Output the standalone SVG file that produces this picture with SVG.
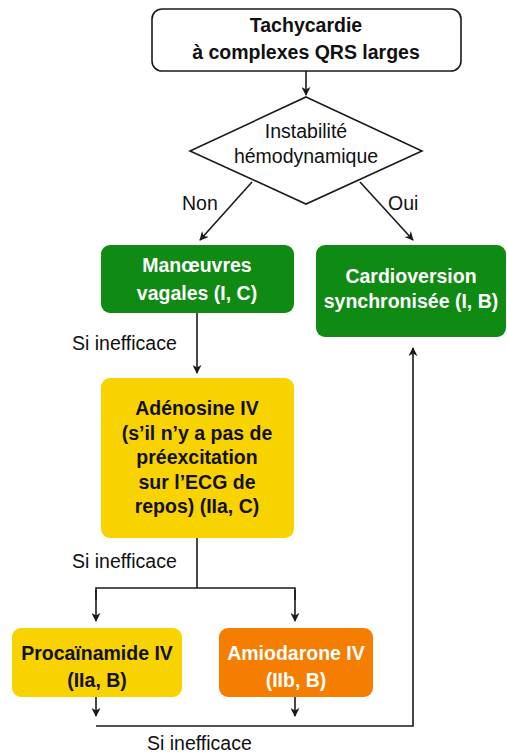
<svg xmlns="http://www.w3.org/2000/svg" width="507" height="753" viewBox="0 0 507 753">
<defs>
<style>
.t{font-family:"Liberation Sans",Arial,sans-serif;font-size:19.5px;text-anchor:middle}
.b{font-weight:bold}
.lbl{font-family:"Liberation Sans",Arial,sans-serif;font-size:19.5px}
.w{fill:#ffffff}
.k{fill:#111111}
.ln{fill:none;stroke:#1a1a1a;stroke-width:1.6}
</style>
<marker id="ah" viewBox="0 0 10 10" refX="9" refY="5" markerWidth="9" markerHeight="9" orient="auto" markerUnits="userSpaceOnUse">
<path d="M0,0 L10,5 L0,10 L3,5 z" fill="#1a1a1a"/>
</marker>
</defs>
<rect width="507" height="753" fill="#ffffff"/>

<g id="connectors">
<line class="ln" x1="306" y1="71" x2="306" y2="95" marker-end="url(#ah)"/>
<line class="ln" x1="252" y1="182" x2="200" y2="240" marker-end="url(#ah)"/>
<line class="ln" x1="360" y1="182" x2="413" y2="240" marker-end="url(#ah)"/>
<line class="ln" x1="197" y1="313" x2="197" y2="373" marker-end="url(#ah)"/>
<polyline class="ln" points="197,538 197,588"/>
<polyline class="ln" points="96,600 96,588 295,588 295,600"/>
<line class="ln" x1="96" y1="590" x2="96" y2="621" marker-end="url(#ah)"/>
<line class="ln" x1="295" y1="590" x2="295" y2="621" marker-end="url(#ah)"/>
<line class="ln" x1="96" y1="697" x2="96" y2="716" marker-end="url(#ah)"/>
<line class="ln" x1="295" y1="697" x2="295" y2="716" marker-end="url(#ah)"/>
<polyline class="ln" points="96,726 413,726 413,348" marker-end="url(#ah)"/>
<text class="lbl k" x="182" y="210">Non</text>
<text class="lbl k" x="388" y="210">Oui</text>
<text class="lbl k" x="72" y="350">Si inefficace</text>
<text class="lbl k" x="72" y="568">Si inefficace</text>
<text class="lbl k" x="147" y="750">Si inefficace</text>
</g>

<g id="start">
<rect x="152" y="9" width="309" height="62" rx="10" fill="#ffffff" stroke="#1a1a1a" stroke-width="1.6"/>
<text class="t b k" x="306" y="32">Tachycardie</text>
<text class="t b k" x="306" y="59">à complexes QRS larges</text>
</g>

<g id="decision">
<polygon points="306,97 422,151 306,204 190,151" fill="#ffffff" stroke="#1a1a1a" stroke-width="1.6"/>
<text class="t k" x="306" y="138">Instabilité</text>
<text class="t k" x="306" y="163">hémodynamique</text>
</g>

<g id="vagal">
<rect x="101" y="245" width="193" height="68" rx="9" fill="#0f8a12"/>
<text class="t b w" x="197" y="272">Manœuvres</text>
<text class="t b w" x="197" y="300">vagales (I, C)</text>
</g>

<g id="cardioversion">
<rect x="316" y="245" width="190" height="92" rx="9" fill="#0f8a12"/>
<text class="t b w" x="411" y="283">Cardioversion</text>
<text class="t b w" x="411" y="308">synchronisée (I, B)</text>
</g>

<g id="adenosine">
<rect x="101" y="378" width="193" height="160" rx="9" fill="#f9d300"/>
<text class="t b k" x="197" y="415">Adénosine IV</text>
<text class="t b k" x="197" y="440">(s’il n’y a pas de</text>
<text class="t b k" x="197" y="464">préexcitation</text>
<text class="t b k" x="197" y="489">sur l’ECG de</text>
<text class="t b k" x="197" y="513">repos) (IIa, C)</text>
</g>

<g id="procainamide">
<rect x="12" y="628" width="170" height="69" rx="9" fill="#f9d300"/>
<text class="t b k" x="97" y="660">Procaïnamide IV</text>
<text class="t b k" x="97" y="687">(IIa, B)</text>
</g>

<g id="amiodarone">
<rect x="219" y="628" width="154" height="69" rx="9" fill="#f57d00"/>
<text class="t b w" x="296" y="660">Amiodarone IV</text>
<text class="t b w" x="296" y="687">(IIb, B)</text>
</g>
</svg>
